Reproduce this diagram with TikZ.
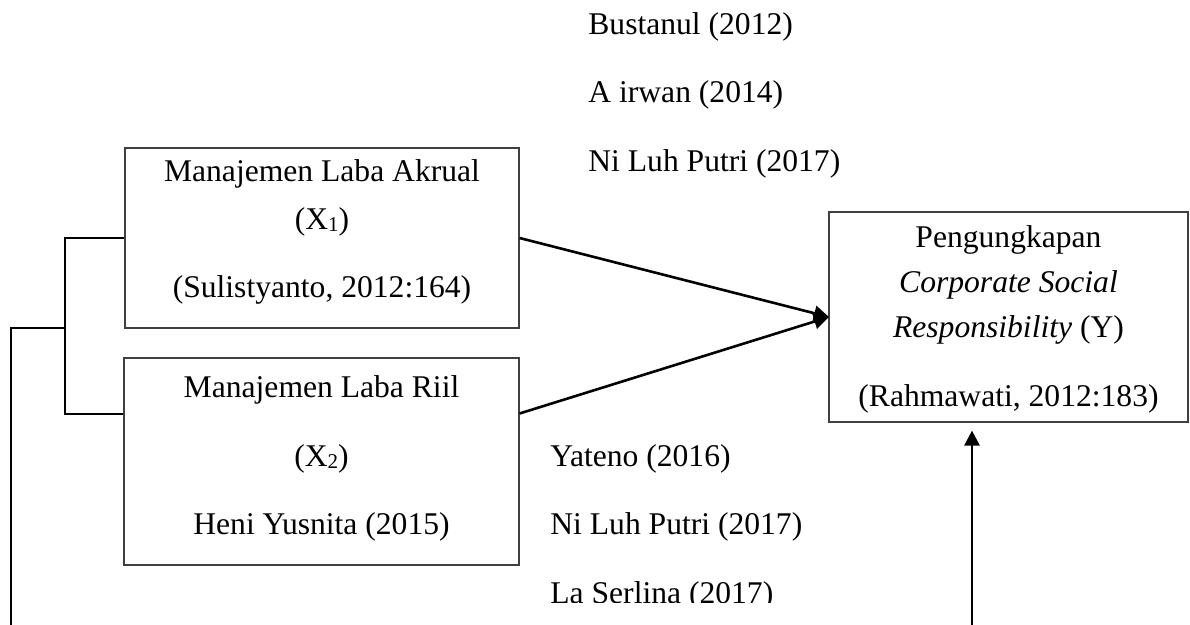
\documentclass[tikz,border=0pt]{standalone}
\usepackage{fontspec}
\setmainfont{Liberation Serif}
\usetikzlibrary{arrows.meta,calc}
\newcommand{\smnum}[1]{\raisebox{-0.6pt}{\fontsize{10.5pt}{11pt}\selectfont #1}}
\tikzset{
  box/.style={draw=black!75, line width=0.6pt, inner sep=0pt, rectangle},
  txt/.style={inner sep=0pt, anchor=base, font=\fontsize{15.8pt}{19pt}\selectfont},
  ref/.style={txt, anchor=base west},
  conn/.style={line width=1pt, draw=black},
  arr/.style={line width=1.3pt, draw=black, -{Triangle[length=7.5pt,width=7.5pt]}}
}
\begin{document}
\begin{tikzpicture}[x=0.5pt,y=-0.5pt]
\useasboundingbox (0,0) rectangle (1190,625);
% boxes
\node[box, minimum width=197pt, minimum height=90pt] (X1) at (322,238) {};
\node[box, minimum width=197.5pt, minimum height=103.5pt] (X2) at (321.5,461.5) {};
\node[box, minimum width=179.5pt, minimum height=105pt] (Y) at (1008.5,317) {};
% box texts
\node[txt] (x1a) at (322,182) {Manajemen Laba Akrual};
\node[txt] (x1b) at (322,230) {(X\smnum{1})};
\node[txt] (x1c) at (322,298) {(Sulistyanto, 2012:164)};
\node[txt] (x2a) at (321.5,398) {Manajemen Laba Riil};
\node[txt] (x2b) at (321.5,467) {(X\smnum{2})};
\node[txt] (x2c) at (321.5,535) {Heni Yusnita (2015)};
\node[txt] (ya) at (1008.5,248) {Pengungkapan};
\node[txt] (yb) at (1008.5,293) {\itshape Corporate Social};
\node[txt] (yc) at (1008.5,338) {\textit{Responsibility} (Y)};
\node[txt] (yd) at (1008.5,407) {(Rahmawati, 2012:183)};
% reference lists
\node[ref] (r1) at (588,35) {Bustanul (2012)};
\node[ref] (r2) at (588,103) {A irwan (2014)};
\node[ref] (r3) at (588,172) {Ni Luh Putri (2017)};
\node[ref] (s1) at (550,467) {Yateno (2016)};
\node[ref] (s2) at (550,535) {Ni Luh Putri (2017)};
\begin{scope}
\clip (0,0) rectangle (1190,602.5);
\node[ref] (s3) at (550,604) {La Serlina (2017)};
\end{scope}
% arrows to Y
\coordinate (tipY) at (829,317);
\draw[arr] (X1.east) -- (tipY);
\draw[arr] ([yshift=24pt]X2.east) -- (tipY);
% vertical arrow from bottom
\coordinate (vbot) at (972,625);
\draw[arr, shorten >=4pt] (vbot) -- (vbot |- Y.south);
% bracket
\coordinate (bx) at (65,0);
\coordinate (lbot) at (11,625);
\draw[conn] (X1.west) -- (X1.west -| bx) -- ([yshift=23.75pt]X2.west -| bx) -- ([yshift=23.75pt]X2.west);
\draw[conn] (65,328) -- (lbot |- 0,328) -- (lbot);
\end{tikzpicture}
\end{document}
